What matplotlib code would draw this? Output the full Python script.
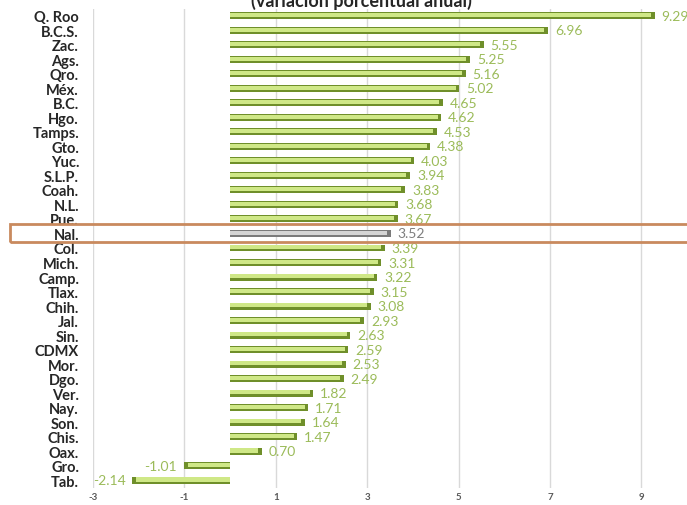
import numpy as np
import matplotlib.pyplot as plt
from matplotlib.patches import Rectangle

estados = ["Q. Roo", "B.C.S.", "Zac.", "Ags.", "Qro.", "Méx.", "B.C.", "Hgo.", "Tamps.", "Gto.",
           "Yuc.", "S.L.P.", "Coah.", "N.L.", "Pue.", "Nal.", "Col.", "Mich.", "Camp.", "Tlax.",
           "Chih.", "Jal.", "Sin.", "CDMX", "Mor.", "Dgo.", "Ver.", "Nay.", "Son.", "Chis.",
           "Oax.", "Gro.", "Tab."]
variacion = [9.29, 6.96, 5.55, 5.25, 5.16, 5.02, 4.65, 4.62, 4.53, 4.38,
             4.03, 3.94, 3.83, 3.68, 3.67, 3.52, 3.39, 3.31, 3.22, 3.15,
             3.08, 2.93, 2.63, 2.59, 2.53, 2.49, 1.82, 1.71, 1.64, 1.47,
             0.70, -1.01, -2.14]
xticks = [-3, -1, 1, 3, 5, 7, 9]
titulo = "(variación porcentual anual)"

plt.rcParams['font.family'] = ['Lato', 'DejaVu Sans']

def main():
    fig = plt.figure(figsize=(6.87, 5.06), dpi=100)
    ax = fig.add_axes([93 / 687, 1 - 488.5 / 506, 1 - 93 / 687, (488.5 - 9.5) / 506])

    n = len(estados)
    y = np.arange(n)
    vals = np.array(variacion)
    nal = [e == "Nal." for e in estados]
    dark = ['#7a7a7a' if b else '#6f8f2a' for b in nal]
    light = ['#d4d4d4' if b else '#cfe887' for b in nal]

    # barra base oscura + brillo claro encima (efecto 3D)
    ax.barh(y, vals, height=0.48, color=dark, zorder=3)
    ax.barh(y - 0.05, vals - np.sign(vals) * 0.08, height=0.28, color=light, zorder=4)

    for yi, v, b in zip(y, vals, nal):
        col = '#7f7f7f' if b else '#9bbb59'
        if v >= 0:
            ax.text(v + 0.15, yi, f"{v:.2f}", va='center', ha='left', color=col, fontsize=10)
        else:
            ax.text(v - 0.15, yi, f"{v:.2f}", va='center', ha='right', color=col, fontsize=10)

    ax.set_xlim(-3, 10)
    ax.set_ylim(n - 0.5, -0.5)
    ax.set_yticks(y)
    ax.set_yticklabels(estados, fontsize=10.5, fontweight='bold', color='#262626')
    ax.set_xticks(xticks)
    ax.set_xticklabels([str(t) for t in xticks], fontsize=7, color='#595959', fontweight='bold')
    ax.tick_params(length=0)
    ax.tick_params(axis='y', pad=10)
    ax.tick_params(axis='x', pad=3)
    ax.grid(axis='x', color='#d9d9d9', linewidth=1, zorder=0)
    for s in ax.spines.values():
        s.set_visible(False)

    # recuadro del nacional
    fig.patches.append(Rectangle((10 / 687, 1 - 243 / 506), 1.0, 18 / 506,
                                 transform=fig.transFigure, fill=False,
                                 edgecolor='#c98a5e', linewidth=2, zorder=10))

    fig.text(0.526, 0.998, titulo, ha='center', va='center', fontsize=13,
             fontweight='bold', color='#262626')

    fig.savefig("out.png", dpi=100)

if __name__ == '__main__':
    main()
